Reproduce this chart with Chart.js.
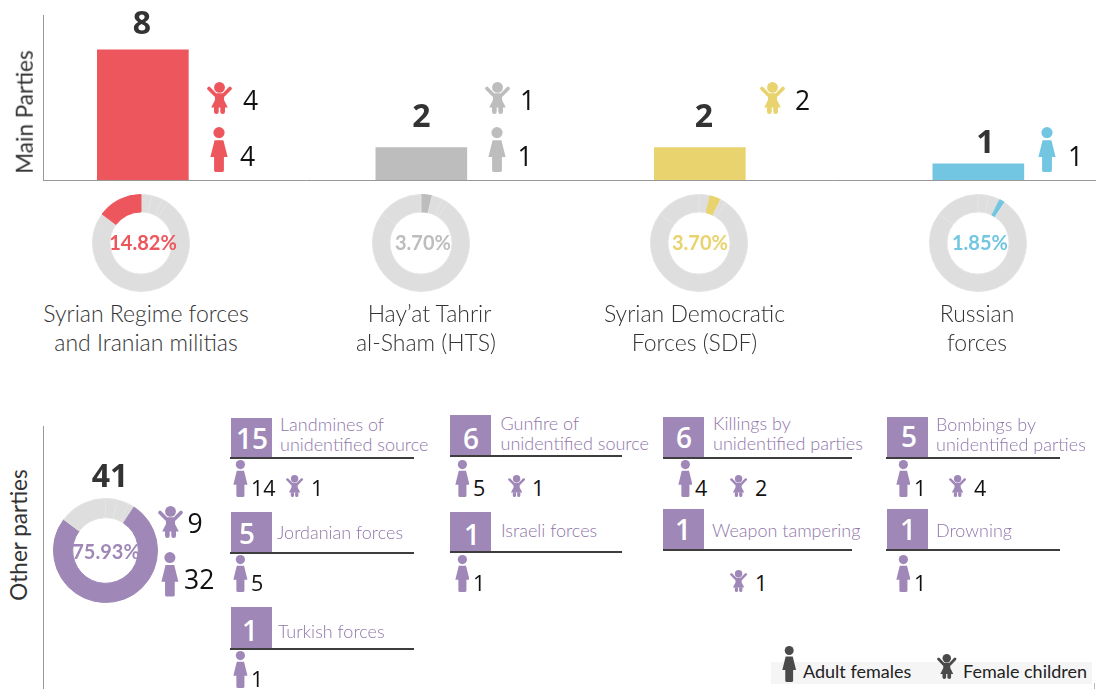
<!DOCTYPE html>
<html><head><meta charset="utf-8">
<style>
html,body{margin:0;padding:0;background:#fff;width:1096px;height:689px;overflow:hidden}
#stage{position:relative;width:1096px;height:689px;overflow:hidden}
canvas{position:absolute;display:block}
.t{position:absolute;white-space:nowrap;line-height:1}
.b{position:absolute}
svg{position:absolute;display:block}
</style>
<script src="https://cdn.jsdelivr.net/npm/chart.js@4"></script>
</head><body><div id="stage"></div>
<script>
/* ---------- data ---------- */
const mainParties = ["Syrian Regime forces and Iranian militias","Hay\u2019at Tahrir al-Sham (HTS)","Syrian Democratic Forces (SDF)","Russian forces"];
const mainTotals = [8,2,2,1];
const mainChildren = [4,1,2,0];
const mainAdults = [4,1,0,1];
const mainColors = ["#ec565c","#bcbdbc","#e8d36e","#72c6e1"];
const shareLabels = ["Hay\u2019at Tahrir al-Sham (HTS)","Syrian Democratic Forces (SDF)","Russian forces","Other parties","Syrian Regime forces and Iranian militias"];
const shareValues = [3.70,3.70,1.85,75.93,14.82];
const otherTotal = 41, otherChildren = 9, otherAdults = 32;
const otherParties = ["Landmines of|unidentified source","Jordanian forces","Turkish forces","Gunfire of|unidentified source","Israeli forces","Killings by|unidentified parties","Weapon tampering","Bombings by|unidentified parties","Drowning"];
const otherTotals = [15,5,1,6,1,6,1,5,1];
const otherAdultCounts = [14,5,1,5,1,4,0,1,1];
const otherChildCounts = [1,0,0,1,0,2,1,4,0];

const PURPLE="#9f88b7", DARK="#333", LIGHT="#dedede", FONT="'Lato',sans-serif", NUM="'Open Sans',sans-serif";
const stage=document.getElementById('stage');
function text(s,x,y,o={}){const d=document.createElement('div');d.className='t';d.textContent=s;
  d.style.cssText+=`left:${x}px;top:${y}px;font:${o.weight||300} ${o.size||20}px/1 ${o.font||FONT};color:${o.color||DARK};transform:${o.rot?`translate(-50%,-50%) rotate(${o.rot}deg)`:(o.left?'translateY(-50%)':'translate(-50%,-50%)')};`;
  stage.appendChild(d);return d;}
function box(x,y,w,h,c){const d=document.createElement('div');d.className='b';d.style.cssText=`left:${x}px;top:${y}px;width:${w}px;height:${h}px;background:${c}`;stage.appendChild(d);}
const NS='http://www.w3.org/2000/svg';
function woman(cx,top,h,c){const s=document.createElementNS(NS,'svg');const w=h*18/45;s.setAttribute('viewBox','0 0 18 45');s.setAttribute('width',w);s.setAttribute('height',h);s.style.left=(cx-w/2)+'px';s.style.top=top+'px';
  s.innerHTML=`<circle cx="9" cy="5.6" r="5.6" fill="${c}"/><path d="M4.6 13.2H13.4L17.6 30H13.9V43.6Q13.9 45 12.5 45H5.5Q4.1 45 4.1 43.6V30H.4Z" fill="${c}"/>`;stage.appendChild(s);}
function kid(cx,top,h,c){const s=document.createElementNS(NS,'svg');const w=h*25/32;s.setAttribute('viewBox','0 0 25 32');s.setAttribute('width',w);s.setAttribute('height',h);s.style.left=(cx-w/2)+'px';s.style.top=top+'px';
  s.innerHTML=`<circle cx="12.5" cy="5.4" r="5.4" fill="${c}"/><path d="M2 6.5L8.4 13H16.6L23 6.5" fill="none" stroke="${c}" stroke-width="3.6" stroke-linecap="round" stroke-linejoin="round"/><path d="M8 12.5H17V18L20.8 25.5H4.2L8 18Z" fill="${c}"/><path d="M7 25H11.7V29.8Q11.7 32 9.35 32T7 29.8ZM13.3 25H18V29.8Q18 32 15.65 32T13.3 29.8Z" fill="${c}"/>`;stage.appendChild(s);}

/* ---------- bar chart ---------- */
const barCanvas=document.createElement('canvas');barCanvas.width=1096;barCanvas.height=200;barCanvas.style.cssText='left:0;top:0;width:1096px;height:200px';stage.appendChild(barCanvas);
const valueNudge=[[-1,-25],[0,-30],[4,-30],[7,-20]];
const valueLabels={id:'valueLabels',afterDatasetsDraw(c){const m=c.getDatasetMeta(0),x=c.ctx;x.save();x.font=`700 32px ${NUM}`;x.fillStyle=DARK;x.textAlign='center';x.textBaseline='middle';
  m.data.forEach((b,i)=>x.fillText(String(mainTotals[i]),b.x+valueNudge[i][0],b.y+valueNudge[i][1]));x.restore();}};
new Chart(barCanvas,{type:'bar',
 data:{datasets:[{label:'Main parties',data:mainTotals.map((v,i)=>({x:i,y:v})),backgroundColor:mainColors,borderWidth:0,barThickness:91}]},
 options:{responsive:false,animation:false,devicePixelRatio:1,layout:{padding:{left:43,top:15,bottom:20,right:0}},
  plugins:{legend:{display:false},tooltip:{enabled:false}},
  scales:{x:{type:'linear',offset:false,min:-0.3585,max:3.4225,ticks:{display:false},grid:{display:false,drawTicks:false,offset:false},border:{display:true,color:'#999',width:1}},
          y:{min:0,max:10.15,ticks:{display:false},grid:{display:false,drawTicks:false},border:{display:true,color:'#999',width:1}}}},
 plugins:[valueLabels]});

/* ---------- doughnuts ---------- */
function doughnut(cx,cy,size,highlight,color,cut){const c=document.createElement('canvas');c.width=size;c.height=size;c.style.cssText=`left:${cx-size/2}px;top:${cy-size/2}px;width:${size}px;height:${size}px`;stage.appendChild(c);
 new Chart(c,{type:'doughnut',data:{labels:shareLabels,datasets:[{data:shareValues,backgroundColor:shareValues.map((_,i)=>i===highlight?color:LIGHT),borderColor:shareValues.map((_,i)=>i===highlight?color:'#e4e4e4'),borderWidth:1}]},
 options:{responsive:false,animation:false,devicePixelRatio:1,cutout:cut,layout:{padding:0},plugins:{legend:{display:false},tooltip:{enabled:false}}}});}
doughnut(141,243,98,4,mainColors[0],'64%');
doughnut(421,243,98,0,mainColors[1],'64%');
doughnut(699,243,98,1,mainColors[2],'64%');
doughnut(978,243,98,2,mainColors[3],'64%');
doughnut(105.5,550.5,105,3,PURPLE,'63%');

const pct={weight:700,size:20};
text(shareValues[4].toFixed(2)+'%',143,241.5,{...pct,color:mainColors[0]});
text(shareValues[0].toFixed(2)+'%',423,241.5,{...pct,color:mainColors[1]});
text(shareValues[1].toFixed(2)+'%',700,241.5,{...pct,color:mainColors[2]});
text(shareValues[2].toFixed(2)+'%',980,241.5,{...pct,color:mainColors[3]});
text(shareValues[3].toFixed(2)+'%',106,551,{...pct,color:PURPLE});

/* ---------- main-party labels ---------- */
text('Main Parties',25,112,{rot:-90,size:22.5,weight:400,color:'#333'});
text('Other parties',19,535,{rot:-90,size:22.5,weight:400,color:'#333'});
[["Syrian Regime forces",146,"and Iranian militias",146],["Hay\u2019at Tahrir",429.5,"al-Sham (HTS)",426],["Syrian Democratic",694.5,"Forces (SDF)",694.5],["Russian",977,"forces",977]]
 .forEach(r=>{text(r[0],r[1],313,{size:23});text(r[2],r[3],342,{size:23});});

/* ---------- main-party pictograms ---------- */
const numBig={size:26.5,weight:400,font:NUM,color:'#111',left:true};
const kidX=[219.5,497,772,null],womanX=[219,496.5,null,1047],kidNumX=[243,520,795,null],womanNumX=[240,517.5,null,1068];
mainParties.forEach((_,i)=>{
 if(mainChildren[i]){kid(kidX[i],82,32,mainColors[i]);text(String(mainChildren[i]),kidNumX[i],99.5,numBig);}
 if(mainAdults[i]){woman(womanX[i],127,45,mainColors[i]);text(String(mainAdults[i]),womanNumX[i],155.5,numBig);}
});

/* ---------- other parties ---------- */
box(43,426,1,263,'#999');
text(String(otherTotal),110,475,{size:32,weight:700,font:NUM,color:DARK});
kid(170.3,506,32,PURPLE);text(String(otherChildren),187.5,523,numBig);
woman(170,552,44.5,PURPLE);text(String(otherAdults),184,579,numBig);

const cardLayout=[
 {x:231,y:418,lx:230,lw:184,ly:457,tx:280,ty:424,wx:240.5,wy:460,nx:251,kx:295,knx:311,dx:252,dy:438},
 {x:231,y:512,lx:230,lw:184,ly:551.5,tx:277,ty:532,wx:240.5,wy:555,nx:251,dx:247,dy:533},
 {x:231,y:607,lx:230,lw:184,ly:648,tx:278,ty:631,wx:240.5,wy:651,nx:251,dx:250,dy:630},
 {x:450,y:415,lx:450,lw:172,ly:455,tx:500.5,ty:422.5,wx:462,wy:460,nx:473,kx:516.6,knx:532,dx:471,dy:437.5},
 {x:450,y:512,lx:450,lw:172,ly:551,tx:501,ty:530,wx:462,wy:555,nx:473,dx:472,dy:534},
 {x:663,y:417,lx:663,lw:189,ly:457,tx:713,ty:422.5,wx:685,wy:460,nx:695,kx:739,knx:755,dx:684,dy:436.5},
 {x:663,y:509,lx:663,lw:189,ly:549,tx:712,ty:530,wx:685,wy:555,nx:695,kx:739,knx:755,dx:683,dy:529},
 {x:887,y:417,lx:886,lw:174,ly:457,tx:936,ty:423.5,wx:903,wy:460,nx:914,kx:958,knx:974,dx:909,dy:436},
 {x:887,y:509,lx:886,lw:174,ly:549,tx:936,ty:530,wx:903,wy:555,nx:914,dx:908,dy:529}];
const num2={size:21.5,weight:400,font:NUM,color:'#111',left:true};
otherParties.forEach((name,i)=>{const L=cardLayout[i];
 box(L.x,L.y,41,L.ly-L.y+1,PURPLE);
 box(L.lx,L.ly,L.lw,2,'#3d3d3d');
 text(String(otherTotals[i]),L.dx,L.dy,{size:28,weight:600,font:NUM,color:'#fff'});
 name.split('|').forEach((ln,k)=>text(ln,L.tx,L.ty+k*20.4,{size:18,weight:300,color:'#8f76aa',left:true}));
 const numY=L.wy+28;
 if(otherAdultCounts[i]){woman(L.wx,L.wy,37,PURPLE);text(String(otherAdultCounts[i]),L.nx,numY,num2);}
 if(otherChildCounts[i]){kid(L.kx,L.wy+15,22,PURPLE);text(String(otherChildCounts[i]),L.knx,numY,num2);}
});

/* ---------- legend ---------- */
box(771,662,321,22,'#f5f5f5');
woman(789,646,36,'#4a4a4a');kid(947,654,25,'#4a4a4a');
text('Adult females',803,671,{size:18,weight:400,color:'#222',left:true});
text('Female children',963,671,{size:18,weight:400,color:'#222',left:true});
box(1094,683,1,6,'#bbb');
</script></body></html>
